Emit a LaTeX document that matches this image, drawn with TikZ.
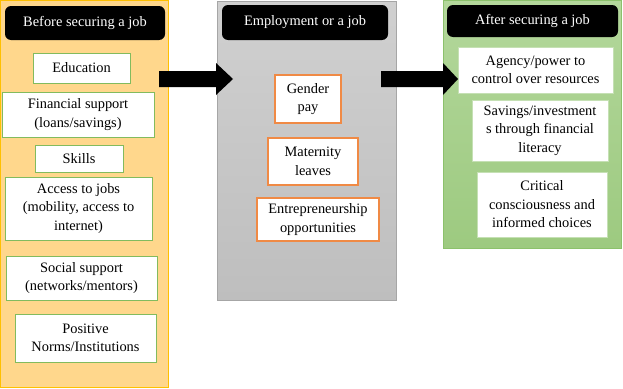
\documentclass[tikz,border=0pt]{standalone}
\usepackage{fontspec}
\setmainfont{Liberation Serif}
\definecolor{beforefill}{HTML}{FFD78C}
\definecolor{beforeline}{HTML}{FFC000}
\definecolor{duringtop}{HTML}{D0D0D0}
\definecolor{duringbot}{HTML}{BEBEBE}
\definecolor{duringline}{HTML}{A6A6A6}
\definecolor{aftertop}{HTML}{B3D79B}
\definecolor{afterbot}{HTML}{9DCA80}
\definecolor{afterline}{HTML}{8CC16C}
\definecolor{lboxline}{HTML}{82BB5E}
\definecolor{mboxline}{HTML}{F08A45}
\definecolor{rboxline}{HTML}{C5E0B4}
\begin{document}
\begin{tikzpicture}[x=1pt, y=-1pt, inner sep=0pt,
  every node/.style={font=\fontsize{14.4}{18.5}\selectfont, align=center, inner sep=0pt},
  panel/.style={line width=0.8pt},
  header/.style={fill=black, text=white, rounded corners=6pt},
  lbox/.style={draw=lboxline, fill=white, line width=1pt},
  mbox/.style={draw=mboxline, fill=white, line width=1.2pt},
  rbox/.style={draw=rboxline, fill=white, line width=1pt}]
  \useasboundingbox (0,0) rectangle (623,388);

  % 1. three panels (background)
  \node[panel, draw=beforeline, fill=beforefill,
        minimum width=167.5, minimum height=386.5] (before) at (84.25,193.75) {};
  \node[panel, draw=duringline, top color=duringtop, bottom color=duringbot,
        minimum width=179, minimum height=299] (during) at (306.5,150.5) {};
  \node[panel, draw=afterline, top color=aftertop, bottom color=afterbot,
        minimum width=178, minimum height=247.5] (after) at (532,124.25) {};

  % 2. black headers
  \node[header, minimum width=160, minimum height=34] (hbefore) at (85,23) {Before securing a job};
  \node[header, minimum width=166, minimum height=35] (hduring) at (305,22.5) {Employment or a job};
  \node[header, minimum width=171, minimum height=32] (hafter) at (532.5,21) {After securing a job};

  % 3. before securing a job
  \node[lbox, minimum width=97, minimum height=30] (edu) at (81.5,68) {Education};
  \node[lbox, minimum width=152, minimum height=45] (finance) at (78,114.5) {Financial support\\(loans/savings)};
  \node[lbox, minimum width=88, minimum height=27] (skills) at (79,158.5) {Skills};
  \node[lbox, minimum width=147, minimum height=63] (access) at (78.5,208.5) {Access to jobs\\(mobility, access to\\internet)};
  \node[lbox, minimum width=151, minimum height=44] (social) at (81.5,278) {Social support\\(networks/mentors)};
  \node[lbox, minimum width=141, minimum height=48] (norms) at (85.5,338) {Positive\\Norms/Institutions};

  % 4. employment or a job
  \node[mbox, minimum width=66, minimum height=48] (genderpay) at (308,99) {Gender\\pay};
  \node[mbox, minimum width=90, minimum height=47] (maternity) at (313,161.5) {Maternity\\leaves};
  \node[mbox, minimum width=122, minimum height=43] (entre) at (318,219.5) {Entrepreneurship\\opportunities};

  % 5. after securing a job
  \node[rbox, minimum width=155, minimum height=46] (agency) at (535.5,70) {Agency/power to\\control over resources};
  \node[rbox, minimum width=136, minimum height=61] (savings) at (540,130.5) {Savings/investment\\s through financial\\literacy};
  \node[rbox, minimum width=130, minimum height=65] (critical) at (542,204.5) {Critical\\consciousness and\\informed choices};

  % 6. block arrows between panels
  \fill[black] (159,71) -- (216,71) -- (216,63) -- (233,79) -- (216,95) -- (216,87) -- (159,87) -- cycle;
  \fill[black] (381,71) -- (443,71) -- (443,63) -- (458,79) -- (443,95) -- (443,87) -- (381,87) -- cycle;
\end{tikzpicture}
\end{document}
